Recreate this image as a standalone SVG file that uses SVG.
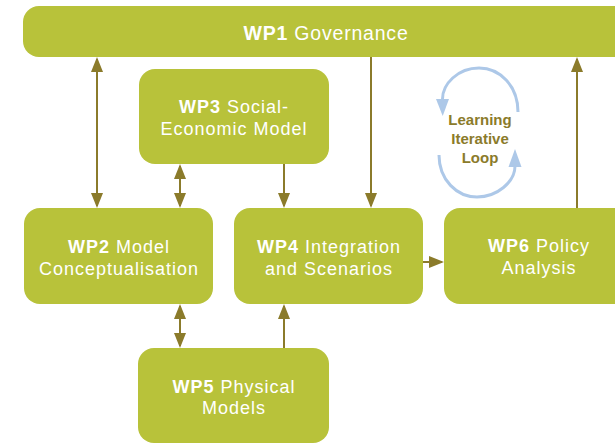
<svg xmlns="http://www.w3.org/2000/svg" width="615" height="444" viewBox="0 0 615 444">
<defs>
<style>
.box{fill:#B8C23A;}
.t{font-family:"Liberation Sans",Arial,sans-serif;font-size:18px;fill:#ffffff;text-anchor:middle;letter-spacing:1px;}
.t1{font-family:"Liberation Sans",Arial,sans-serif;font-size:19.5px;fill:#ffffff;text-anchor:middle;letter-spacing:0.8px;}
.b{font-weight:bold;}
.c{stroke:#8B7B2B;stroke-width:2;fill:none;}
.loop{stroke:#ADC8E8;stroke-width:3;fill:none;}
.lt{font-family:"Liberation Sans",Arial,sans-serif;font-size:15px;font-weight:bold;fill:#8B7B2B;text-anchor:middle;}
</style>
<marker id="ah" markerUnits="userSpaceOnUse" markerWidth="15" markerHeight="12" refX="13" refY="6" orient="auto-start-reverse" viewBox="0 0 15 12">
<path d="M0,0 L15,6 L0,12 z" fill="#8B7B2B"/>
</marker>
</defs>

<g id="connectors">
<line class="c" x1="97" y1="59" x2="97" y2="206" marker-start="url(#ah)" marker-end="url(#ah)"/>
<line class="c" x1="180" y1="166" x2="180" y2="206" marker-start="url(#ah)" marker-end="url(#ah)"/>
<line class="c" x1="284" y1="164" x2="284" y2="206" marker-end="url(#ah)"/>
<line class="c" x1="371" y1="57" x2="371" y2="206" marker-end="url(#ah)"/>
<line class="c" x1="577" y1="208" x2="577" y2="59" marker-end="url(#ah)"/>
<line class="c" x1="423" y1="262" x2="442" y2="262" marker-end="url(#ah)"/>
<line class="c" x1="180" y1="306" x2="180" y2="346" marker-start="url(#ah)" marker-end="url(#ah)"/>
<line class="c" x1="284" y1="348" x2="284" y2="306" marker-end="url(#ah)"/>
</g>

<g id="loop">
<path class="loop" d="M518 112 C518 86 500 68 479 68 C458 68 442 84 442.5 100"/>
<polygon points="436,99 449,99 442.7,116" fill="#ADC8E8"/>
<path class="loop" d="M439 155 C439 180 457 197 477 197 C497 197 515 182 515 166"/>
<polygon points="508.5,167 521.5,167 515,149" fill="#ADC8E8"/>
<text class="lt" x="480" y="125">Learning</text>
<text class="lt" x="480" y="144">Iterative</text>
<text class="lt" x="480" y="163">Loop</text>
</g>

<g id="wp1">
<rect class="box" x="23" y="6" width="606" height="51" rx="16"/>
<text class="t1" x="326" y="40"><tspan class="b">WP1</tspan> Governance</text>
</g>

<g id="wp3">
<rect class="box" x="139" y="69" width="190" height="95" rx="16"/>
<text class="t" x="234" y="113"><tspan class="b">WP3</tspan> Social-</text>
<text class="t" x="234" y="135">Economic Model</text>
</g>

<g id="wp2">
<rect class="box" x="24" y="208" width="189" height="96" rx="16"/>
<text class="t" x="119" y="253"><tspan class="b">WP2</tspan> Model</text>
<text class="t" x="119" y="275">Conceptualisation</text>
</g>

<g id="wp4">
<rect class="box" x="234" y="208" width="189" height="96" rx="16"/>
<text class="t" x="329" y="253"><tspan class="b">WP4</tspan> Integration</text>
<text class="t" x="329" y="275">and Scenarios</text>
</g>

<g id="wp6">
<rect class="box" x="444" y="208" width="190" height="96" rx="16"/>
<text class="t" x="539" y="252"><tspan class="b">WP6</tspan> Policy</text>
<text class="t" x="539" y="274">Analysis</text>
</g>

<g id="wp5">
<rect class="box" x="138" y="348" width="191" height="95" rx="16"/>
<text class="t" x="234" y="393"><tspan class="b">WP5</tspan> Physical</text>
<text class="t" x="234" y="414">Models</text>
</g>
</svg>
